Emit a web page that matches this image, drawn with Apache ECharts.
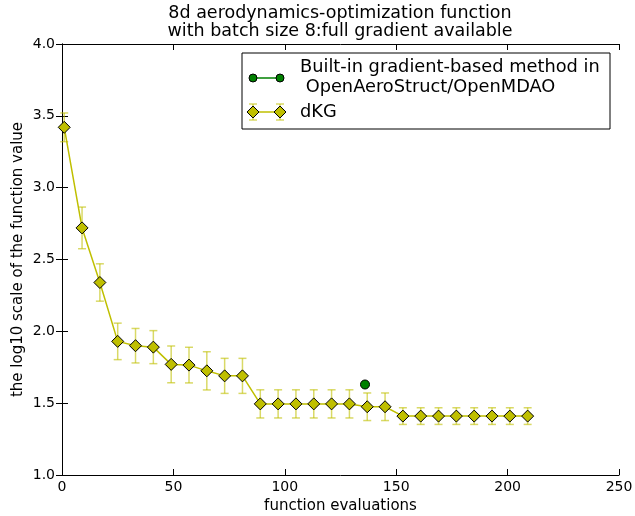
<!DOCTYPE html>
<html>
<head>
<meta charset="utf-8">
<script src="https://cdn.jsdelivr.net/npm/echarts@6/dist/echarts.min.js"></script>
<style>html,body{margin:0;padding:0;background:#fff}#c{width:635px;height:516px}</style>
</head>
<body>
<div id="c"></div>
<script>
// ---- data ----
const titleLines = ['8d aerodynamics-optimization function', 'with batch size 8:full gradient available'];
const xLabel = 'function evaluations';
const yLabel = 'the log10 scale of the function value';
const evals = [1, 9, 17, 25, 33, 41, 49, 57, 65, 73, 81, 89, 97, 105, 113, 121, 129, 137, 145, 153, 161, 169, 177, 185, 193, 201, 209];
const dkgMean = [3.42, 2.72, 2.34, 1.93, 1.90, 1.89, 1.77, 1.765, 1.725, 1.69, 1.69, 1.495, 1.495, 1.495, 1.495, 1.495, 1.495, 1.475, 1.475, 1.41, 1.41, 1.41, 1.41, 1.41, 1.41, 1.41, 1.41];
const dkgErr = [0.10, 0.145, 0.13, 0.127, 0.12, 0.115, 0.128, 0.124, 0.133, 0.122, 0.122, 0.098, 0.098, 0.098, 0.098, 0.098, 0.098, 0.096, 0.096, 0.058, 0.058, 0.058, 0.058, 0.058, 0.058, 0.058, 0.058];
const builtinX = [136];
const builtinY = [1.63];
const legendNames = ['Built-in gradient-based method in\n OpenAeroStruct/OpenMDAO', 'dKG'];

const FONT = 'DejaVu Sans';
const YEL = '#bfbf00';
const ERRC = 'rgba(191,191,0,0.6)';

const chart = echarts.init(document.getElementById('c'), null, {renderer: 'canvas'});

const lineData = evals.map((x, i) => [x, dkgMean[i]]);
const errData = evals.map((x, i) => [x, dkgMean[i] - dkgErr[i], dkgMean[i] + dkgErr[i]]);
const greenData = builtinX.map((x, i) => [x, builtinY[i]]);

function errRender(params, api) {
  const x = api.value(0);
  const lo = api.coord([x, api.value(1)]);
  const hi = api.coord([x, api.value(2)]);
  const w = 4;
  const st = {stroke: ERRC, lineWidth: 1.5, fill: null};
  return {
    type: 'group',
    children: [
      {type: 'line', shape: {x1: lo[0], y1: lo[1], x2: hi[0], y2: hi[1]}, style: st},
      {type: 'line', shape: {x1: lo[0] - w, y1: lo[1], x2: lo[0] + w, y2: lo[1]}, style: st},
      {type: 'line', shape: {x1: hi[0] - w, y1: hi[1], x2: hi[0] + w, y2: hi[1]}, style: st}
    ]
  };
}

const axisLineStyle = {show: true, lineStyle: {color: '#000', width: 1}};
const tickIn = {show: true, inside: true, length: 6, lineStyle: {color: '#000', width: 1}};

// legend (drawn as graphic)
const LX = 242, LY = 53, LW = 368, LH = 76;
const LF = '17.8px "' + FONT + '"';
const legendGraphic = [
  {type: 'rect', shape: {x: LX, y: LY, width: LW, height: LH}, style: {fill: '#fff', stroke: '#000', lineWidth: 1}, z: 100},
  {type: 'line', shape: {x1: 253, y1: 78, x2: 280, y2: 78}, style: {stroke: '#008000', lineWidth: 1.5}, z: 101},
  {type: 'circle', shape: {cx: 253, cy: 78, r: 4}, style: {fill: '#008000', stroke: '#000', lineWidth: 1}, z: 102},
  {type: 'circle', shape: {cx: 280, cy: 78, r: 4}, style: {fill: '#008000', stroke: '#000', lineWidth: 1}, z: 102},
  {type: 'text', style: {text: legendNames[0], x: 300, y: 77, textVerticalAlign: 'middle', font: LF, fill: '#000', lineHeight: 20}, z: 101},
  {type: 'line', shape: {x1: 253, y1: 112, x2: 280, y2: 112}, style: {stroke: YEL, lineWidth: 1.5}, z: 101},
  {type: 'line', shape: {x1: 253, y1: 104, x2: 253, y2: 120}, style: {stroke: ERRC, lineWidth: 1.5}, z: 101},
  {type: 'line', shape: {x1: 249, y1: 104, x2: 257, y2: 104}, style: {stroke: ERRC, lineWidth: 1.5}, z: 101},
  {type: 'line', shape: {x1: 249, y1: 120, x2: 257, y2: 120}, style: {stroke: ERRC, lineWidth: 1.5}, z: 101},
  {type: 'line', shape: {x1: 280, y1: 104, x2: 280, y2: 120}, style: {stroke: ERRC, lineWidth: 1.5}, z: 101},
  {type: 'line', shape: {x1: 276, y1: 104, x2: 284, y2: 104}, style: {stroke: ERRC, lineWidth: 1.5}, z: 101},
  {type: 'line', shape: {x1: 276, y1: 120, x2: 284, y2: 120}, style: {stroke: ERRC, lineWidth: 1.5}, z: 101},
  {type: 'polygon', shape: {points: [[253, 106], [259, 112], [253, 118], [247, 112]]}, style: {fill: YEL, stroke: '#000', lineWidth: 1}, z: 102},
  {type: 'polygon', shape: {points: [[280, 106], [286, 112], [280, 118], [274, 112]]}, style: {fill: YEL, stroke: '#000', lineWidth: 1}, z: 102},
  {type: 'text', style: {text: legendNames[1], x: 300, y: 112, textVerticalAlign: 'middle', font: LF, fill: '#000'}, z: 101},
  {type: 'text', style: {text: titleLines[0], x: 340, y: 13, textAlign: 'center', textVerticalAlign: 'middle', font: '17.5px "' + FONT + '"', fill: '#000'}},
  {type: 'text', style: {text: titleLines[1], x: 340, y: 31, textAlign: 'center', textVerticalAlign: 'middle', font: '17.5px "' + FONT + '"', fill: '#000'}}
];

chart.setOption({
  animation: false,
  backgroundColor: '#fff',
  textStyle: {fontFamily: FONT},
  grid: {left: 62, right: 16, top: 44, bottom: 41, containLabel: false, outerBoundsMode: 'none'},
  xAxis: [
    {type: 'value', min: 0, max: 250, interval: 50, position: 'bottom',
     name: xLabel, nameLocation: 'middle', nameGap: 24, nameMoveOverlap: false,
     nameTextStyle: {fontFamily: FONT, fontSize: 15, color: '#000'},
     axisLine: axisLineStyle, axisTick: tickIn, splitLine: {show: false},
     axisLabel: {fontFamily: FONT, fontSize: 14, color: '#000', margin: 5}},
    {type: 'value', min: 0, max: 250, interval: 50, position: 'top',
     axisLine: axisLineStyle, axisTick: tickIn, splitLine: {show: false}, axisLabel: {show: false}}
  ],
  yAxis: [
    {type: 'value', min: 1, max: 4, interval: 0.5, position: 'left',
     name: yLabel, nameLocation: 'middle', nameGap: 36, nameMoveOverlap: false,
     nameTextStyle: {fontFamily: FONT, fontSize: 15, color: '#000'},
     axisLine: axisLineStyle, axisTick: tickIn, splitLine: {show: false},
     axisLabel: {fontFamily: FONT, fontSize: 14, color: '#000', margin: 7, formatter: v => v.toFixed(1)}},
    {type: 'value', min: 1, max: 4, interval: 0.5, position: 'right',
     axisLine: axisLineStyle, axisTick: tickIn, splitLine: {show: false}, axisLabel: {show: false}}
  ],
  series: [
    {type: 'custom', name: 'dKG-err', xAxisIndex: 0, yAxisIndex: 0, data: errData, renderItem: errRender, z: 2, silent: true},
    {type: 'line', name: 'dKG', xAxisIndex: 0, yAxisIndex: 0, data: lineData, symbol: 'diamond', symbolSize: 12,
     lineStyle: {color: YEL, width: 1.5}, itemStyle: {color: YEL, borderColor: '#000', borderWidth: 1}, z: 3},
    {type: 'scatter', name: 'builtin', xAxisIndex: 0, yAxisIndex: 0, data: greenData, symbol: 'circle', symbolSize: 9,
     itemStyle: {color: '#008000', borderColor: '#000', borderWidth: 1, opacity: 1}, z: 4}
  ],
  graphic: legendGraphic
});
</script>
</body>
</html>
